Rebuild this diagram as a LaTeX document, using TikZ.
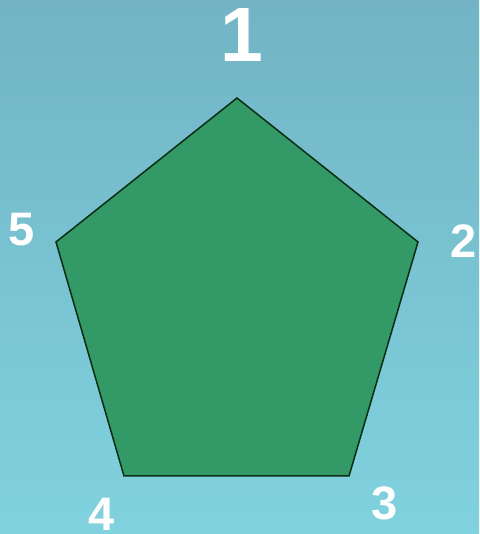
\documentclass[tikz,border=0pt]{standalone}
\usepackage{fontspec}
\setmainfont{Liberation Sans}
\definecolor{fondoarriba}{RGB}{114,180,197}
\definecolor{fondoabajo}{RGB}{128,210,222}
\definecolor{verdepent}{RGB}{51,153,102}
\definecolor{bordepent}{RGB}{10,45,20}
\tikzset{
  etiqueta/.style={text=white, font=\bfseries\fontsize{47}{47}\selectfont, inner sep=0pt},
}
\begin{document}
\begin{tikzpicture}[x=1pt, y=1pt]
                % Fondo degradado (fija el tamaño de la figura)
                \shade[top color=fondoarriba, bottom color=fondoabajo] (0,0) rectangle (479,534);
                \useasboundingbox (0,0) rectangle (479,534);

                % Vértices del pentágono
                \coordinate (v1) at (237,436);
                \coordinate (v2) at (418,292);
                \coordinate (v3) at (349,58);
                \coordinate (v4) at (124,58);
                \coordinate (v5) at (56,292);

                % Pentágono relleno
                \draw[fill=verdepent, draw=bordepent, line width=1.5pt, line join=miter]
                    (v1) -- (v2) -- (v3) -- (v4) -- (v5) -- cycle;

                % Números de los vértices
                \node[etiqueta, font=\bfseries\fontsize{77}{77}\selectfont] (n1) at (242,499) {1};
                \node[etiqueta] (n2) at (464,293) {2};
                \node[etiqueta] (n3) at (385,31) {3};
                \node[etiqueta] (n4) at (102,20) {4};
                \node[etiqueta] (n5) at (22,304) {5};
\end{tikzpicture}
\end{document}
